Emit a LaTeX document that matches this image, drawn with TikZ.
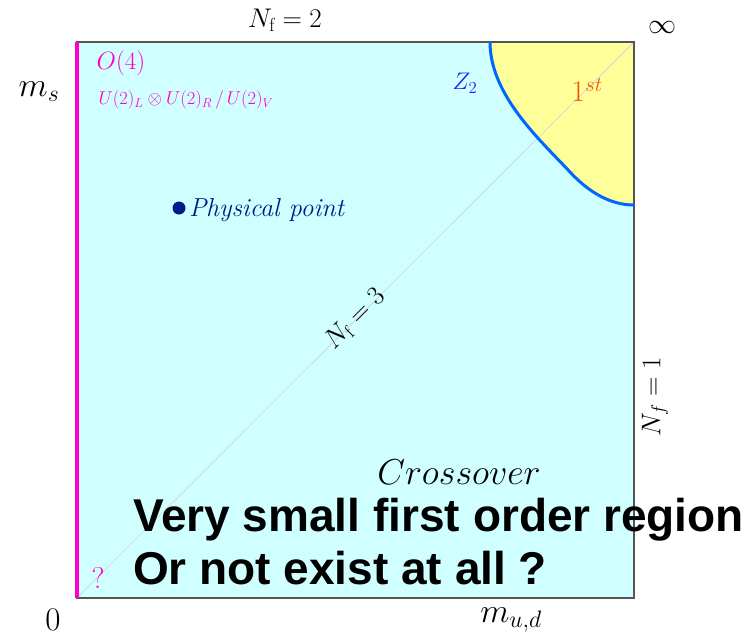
\RequirePackage{fix-cm}
\documentclass[tikz,border=0pt]{standalone}
\usepackage{fontspec}
\newfontfamily\boldsans{Liberation Sans}[BoldFont={Liberation Sans Bold}]
\definecolor{cyanbg}{RGB}{208,255,255}
\definecolor{yellowbg}{RGB}{255,255,153}
\definecolor{magline}{RGB}{255,0,204}
\definecolor{zcurve}{RGB}{0,102,255}
\definecolor{zlabel}{RGB}{30,30,255}
\definecolor{orangelab}{RGB}{255,80,20}
\definecolor{navy}{RGB}{0,25,140}
\definecolor{diaggray}{RGB}{215,215,215}
\definecolor{bordergray}{RGB}{85,85,85}
\tikzset{
  lab/.style={inner sep=0pt, outer sep=0pt},
  big/.style={lab, font=\fontsize{46}{52}\selectfont\boldsans\bfseries, anchor=base west},
}
\begin{document}
\begin{tikzpicture}[x=1pt,y=-1pt]
\useasboundingbox (0,0) rectangle (747,638);
\coordinate (bl) at (77,598);
\coordinate (tr) at (634,42);
\coordinate (tl) at (77,42);
\coordinate (br) at (634,598);
\fill[cyanbg] (bl) rectangle (tr);
\fill[yellowbg] (490,42) .. controls (490,95) and (540,140) .. (570,172)
   .. controls (595,199) and (618,205) .. (634,205) -- (tr) -- cycle;
\draw[diaggray, line width=0.8pt] (bl) -- (tr);
\draw[bordergray, line width=1.6pt] (bl) rectangle (tr);
\draw[zcurve, line width=3pt] (490,42) .. controls (490,95) and (540,140) .. (570,172)
   .. controls (595,199) and (618,205) .. (634,205);
\draw[magline, line width=4pt] (bl) -- (tl);
% labels
\node[lab, font=\fontsize{27}{32}\selectfont] (nf2) at (285,20) {$N_{\mathrm{f}}=2$};
\node[lab, font=\fontsize{28}{32}\selectfont] (inf) at (662,27) {$\infty$};
\node[lab, font=\fontsize{34}{38}\selectfont] (ms) at (39,92) {$m_s$};
\node[lab, font=\fontsize{25}{30}\selectfont, text=magline] (o4) at (121,63) {$O(4)$};
\node[lab, font=\fontsize{18.5}{22}\selectfont, text=magline] (u2) at (186,100) {$U(2)_L\otimes U(2)_R\,/\,U(2)_V$};
\node[lab, font=\fontsize{24}{28}\selectfont, text=zlabel] (z2) at (465,83) {$Z_2$};
\node[lab, font=\fontsize{30}{34}\selectfont, text=orangelab] (first) at (587,90) {$1^{st}$};
\fill[navy] (179,208) circle (6.5);
\node[lab, font=\fontsize{26}{30}\selectfont\itshape, text=navy, anchor=west] (pp) at (189,210) {Physical point};
\node[lab, font=\fontsize{27}{32}\selectfont, rotate=45] (nf3) at (355,319) {$N_{\mathrm{f}}=3$};
\node[lab, font=\fontsize{27}{32}\selectfont, rotate=90] (nf1) at (655,397) {$N_f=1$};
\node[lab, font=\fontsize{36}{40}\selectfont] (cross) at (459,472) {$Crossover$};
\node[big] (l1) at (133,531) {Very small first order region};
\node[big] (l2) at (133,584) {Or not exist at all ?};
\node[lab, font=\fontsize{30}{34}\selectfont, text=magline] (q) at (98,578) {?};
\node[lab, font=\fontsize{33}{38}\selectfont] (zero) at (53,620) {$0$};
\node[lab, font=\fontsize{34}{38}\selectfont] (mud) at (511,620) {$m_{u,d}$};
\end{tikzpicture}
\end{document}
